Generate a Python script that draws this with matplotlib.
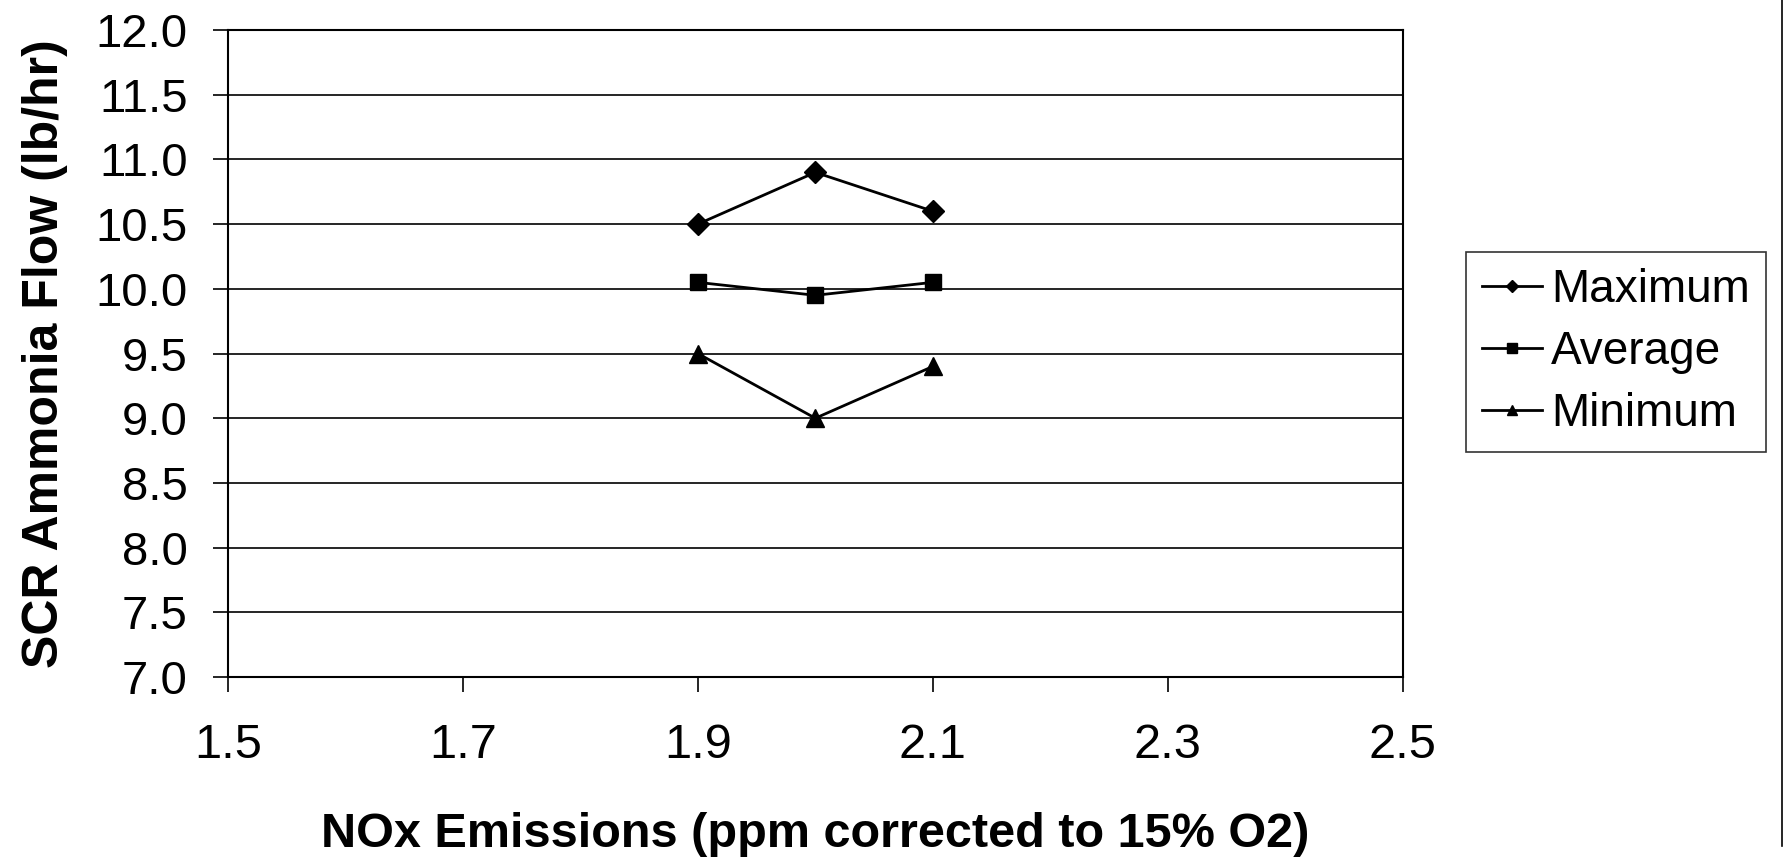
import matplotlib.pyplot as plt
from matplotlib.lines import Line2D

# data
nox = [1.9, 2.0, 2.1]
maximum = [10.5, 10.9, 10.6]
average = [10.05, 9.95, 10.05]
minimum = [9.5, 9.0, 9.4]
x_ticks = [1.5, 1.7, 1.9, 2.1, 2.3, 2.5]
y_ticks = [7.0, 7.5, 8.0, 8.5, 9.0, 9.5, 10.0, 10.5, 11.0, 11.5, 12.0]

plt.rcParams['font.family'] = ['Liberation Sans', 'DejaVu Sans']

fig = plt.figure(figsize=(17.88, 8.63), dpi=100)
ax = fig.add_axes([0.1275, 0.2155, 0.657, 0.7497])

ax.plot(nox, maximum, color='black', lw=2, marker='D', ms=11, label='Maximum')
ax.plot(nox, average, color='black', lw=2, marker='s', ms=11, label='Average')
ax.plot(nox, minimum, color='black', lw=2, marker='^', ms=13, label='Minimum')

ax.set_xlim(1.5, 2.5)
ax.set_ylim(7.0, 12.0)
ax.set_xticks(x_ticks)
ax.set_xticklabels(['{:.1f}'.format(v) for v in x_ticks])
ax.set_yticks(y_ticks)
ax.set_yticklabels(['{:.1f}'.format(v) for v in y_ticks])
ax.tick_params(axis='x', direction='out', length=11, width=1.2, pad=22, labelsize=35)
ax.tick_params(axis='y', direction='out', length=11, width=1.2, pad=18, labelsize=34)
ax.grid(axis='y', color='black', linewidth=1.2)
ax.set_axisbelow(True)
for s in ax.spines.values():
    s.set_linewidth(1.5)
    s.set_color('black')

ax.set_xlabel('NOx Emissions (ppm corrected to 15% O2)', fontsize=35, fontweight='bold', labelpad=32)
ax.set_ylabel('SCR Ammonia Flow (lb/hr)', fontsize=36, fontweight='bold', labelpad=20)

leg = fig.legend(loc='center left', bbox_to_anchor=(0.82, 0.592), fontsize=33, frameon=True,
                 fancybox=False, edgecolor='black', markerscale=0.6, handlelength=1.3,
                 handletextpad=0.2, borderpad=0.35, labelspacing=0.4, borderaxespad=0)
leg.get_frame().set_linewidth(1.2)

# faint outer border on the right side of the scan
fig.add_artist(Line2D([0.9966, 0.9966], [0.02, 1.0], transform=fig.transFigure, color='black', lw=1.2))

plt.savefig('out.png', dpi=100)
